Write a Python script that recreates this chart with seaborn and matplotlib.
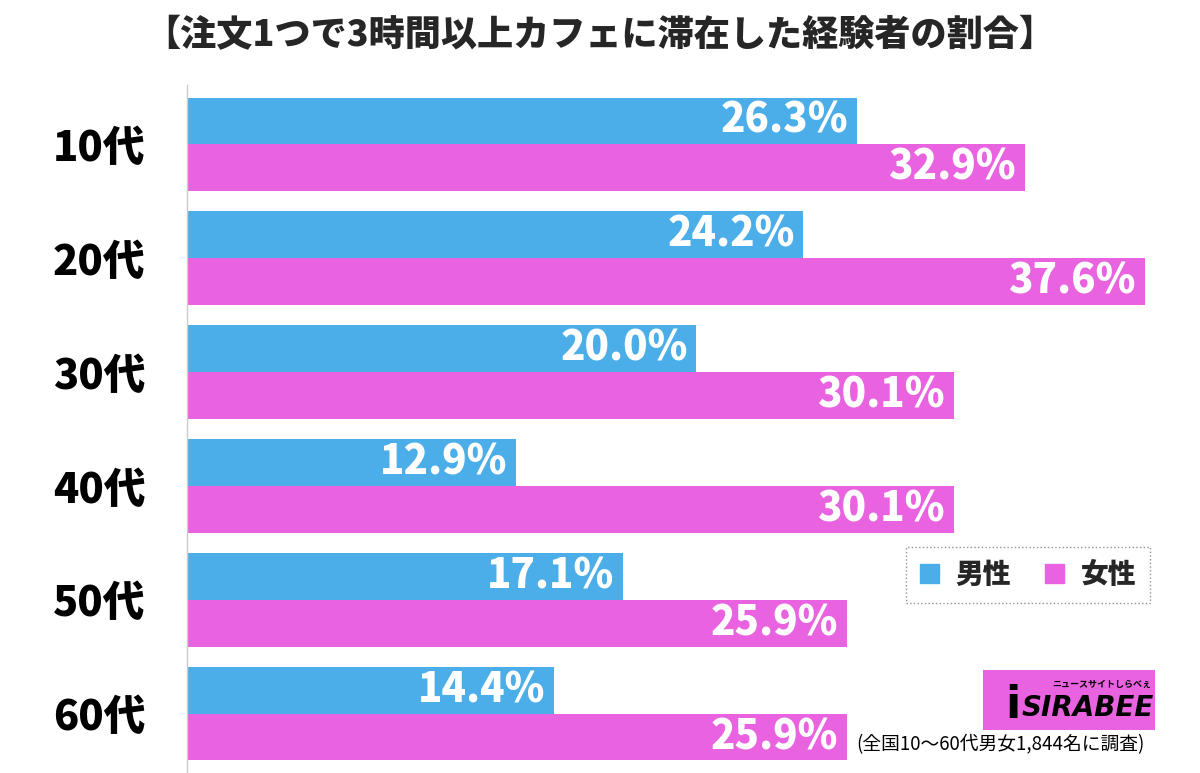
import matplotlib
matplotlib.use("Agg")
import matplotlib.pyplot as plt
import seaborn as sns
import pandas as pd
from matplotlib.patches import Patch, Rectangle

categories = ["10代", "20代", "30代", "40代", "50代", "60代"]
male = [26.3, 24.2, 20.0, 12.9, 17.1, 14.4]
female = [32.9, 37.6, 30.1, 30.1, 25.9, 25.9]
series = ["男性", "女性"]
colors = ["#4BAEE9", "#E963E0"]

df = pd.DataFrame({
    "cat": categories * 2,
    "val": male + female,
    "sex": [series[0]] * len(categories) + [series[1]] * len(categories),
})

sns.set_theme(style="white")
plt.rcParams['font.family'] = ['Noto Sans CJK JP', 'DejaVu Sans']

fig = plt.figure(figsize=(12, 7.73), dpi=100)
ax = fig.add_axes([187 / 1200, 0.0, (1165 - 187) / 1200, 1 - 85 / 773])

sns.barplot(data=df, x="val", y="cat", hue="sex", order=categories,
            hue_order=series, palette=colors, orient="h", width=0.82,
            saturation=1, ax=ax, legend=False, errorbar=None, linewidth=0)

ax.set_xlim(0, (1165 - 187) / 25.47)
ax.set_ylim(5.52, -0.52)
for s in ["top", "right", "bottom"]:
    ax.spines[s].set_visible(False)
ax.spines["left"].set_color("#cccccc")
ax.spines["left"].set_linewidth(1)
ax.set_xticks([])
ax.set_xlabel("")
ax.set_ylabel("")
ax.tick_params(axis="y", length=0, pad=30)
for lab in ax.get_yticklabels():
    lab.set_fontsize(30)
    lab.set_fontweight("black")
    lab.set_color("black")

for cont in ax.containers:
    txts = ax.bar_label(cont, labels=[f"{v:.1f}%" for v in cont.datavalues],
                        label_type="edge", padding=-6, color="white",
                        fontsize=29, fontweight="black")
    for t in txts:
        t.set_ha("right")

fig.text(0.5, 1 - 35 / 773, "【注文1つで3時間以上カフェに滞在した経験者の割合】",
         ha="center", va="center", fontsize=26, fontweight="black")

handles = [Patch(color=c, label=l) for c, l in zip(colors, series)]
leg = ax.legend(handles=handles, loc="center", bbox_to_anchor=(1028 / 1200, 1 - 575 / 773),
                bbox_transform=fig.transFigure, ncol=2, frameon=True,
                prop={"weight": "black", "size": 20}, handlelength=0.7, handleheight=0.7,
                columnspacing=1.2, handletextpad=0.6, borderpad=0.5, fancybox=False)
leg.get_frame().set_edgecolor("#777777")
leg.get_frame().set_linestyle(":")
leg.get_frame().set_linewidth(1.0)

# logo
fig.patches.append(Rectangle((983 / 1200, 1 - 730 / 773), 172 / 1200, 60 / 773,
                             transform=fig.transFigure, fc="#E963E0", ec="none"))
fig.text(1013 / 1200, 1 - 705 / 773, "i", ha="center", va="center",
         fontsize=32, fontweight="black", color="black", family=["DejaVu Sans"])
fig.text(1088 / 1200, 1 - 708 / 773, "SIRABEE", ha="center", va="center",
         fontsize=20, fontweight="bold", style="italic", color="black",
         family=["DejaVu Sans"])
fig.text(1102 / 1200, 1 - 684 / 773, "ニュースサイトしらべぇ", ha="center", va="center",
         fontsize=6.5, fontweight="bold", color="black")

fig.text(1145 / 1200, 1 - 745 / 773, "(全国10～60代男女1,844名に調査)",
         ha="right", va="center", fontsize=13.5, color="black")

fig.savefig("out.png", dpi=100)
